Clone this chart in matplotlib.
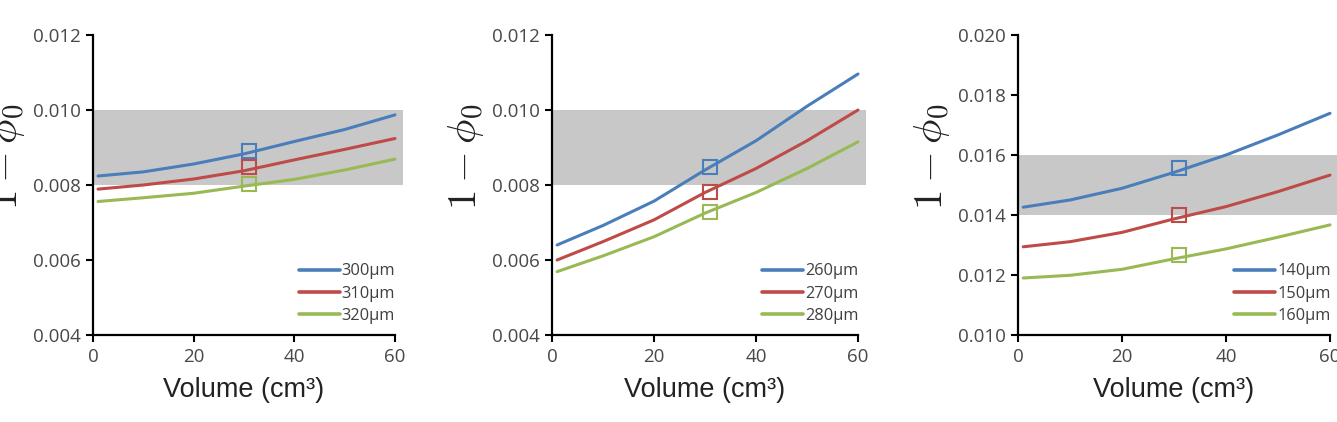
import numpy as np
import matplotlib
matplotlib.use('Agg')
import matplotlib.pyplot as plt

plt.rcParams['mathtext.fontset'] = 'cm'
plt.rcParams['font.family'] = ['Open Sans', 'DejaVu Sans']

volume = [1, 10, 20, 30, 40, 50, 60]
marker_x = 31

# panel A
labels_a = ["300\u03bcm", "310\u03bcm", "320\u03bcm"]
a_300 = [0.00824, 0.00835, 0.00856, 0.00883, 0.00916, 0.00948, 0.00987]
a_310 = [0.00789, 0.00800, 0.00816, 0.00838, 0.00867, 0.00895, 0.00924]
a_320 = [0.00756, 0.00766, 0.00778, 0.00797, 0.00815, 0.00840, 0.00869]
marks_a = [0.00891, 0.00849, 0.00803]

# panel B
labels_b = ["260\u03bcm", "270\u03bcm", "280\u03bcm"]
b_260 = [0.00640, 0.00692, 0.00757, 0.00840, 0.00918, 0.01010, 0.01096]
b_270 = [0.00600, 0.00649, 0.00707, 0.00780, 0.00844, 0.00918, 0.01000]
b_280 = [0.00569, 0.00611, 0.00662, 0.00725, 0.00780, 0.00844, 0.00915]
marks_b = [0.00849, 0.00782, 0.00729]

# panel C
labels_c = ["140\u03bcm", "150\u03bcm", "160\u03bcm"]
c_140 = [0.01426, 0.01450, 0.01489, 0.01542, 0.01600, 0.01667, 0.01739]
c_150 = [0.01294, 0.01311, 0.01342, 0.01387, 0.01428, 0.01478, 0.01533]
c_160 = [0.01190, 0.01199, 0.01219, 0.01254, 0.01287, 0.01326, 0.01367]
marks_c = [0.01558, 0.01400, 0.01267]

colors = ["#4a7ebb", "#be4b48", "#98b954"]

panels = [
  dict(series=[a_300, a_310, a_320], marks=marks_a, labels=labels_a,
       ylim=(0.004, 0.012), yticks=[0.004, 0.006, 0.008, 0.010, 0.012], band=(0.008, 0.010)),
  dict(series=[b_260, b_270, b_280], marks=marks_b, labels=labels_b,
       ylim=(0.004, 0.012), yticks=[0.004, 0.006, 0.008, 0.010, 0.012], band=(0.008, 0.010)),
  dict(series=[c_140, c_150, c_160], marks=marks_c, labels=labels_c,
       ylim=(0.010, 0.020), yticks=[0.010, 0.012, 0.014, 0.016, 0.018, 0.020], band=(0.014, 0.016)),
]

W, H = 1337, 422
fig = plt.figure(figsize=(W/100, H/100), dpi=100)

lefts = [93, 552, 1018]
rights = [395, 858, 1330]
top, bottom = 35, 335

for p, l, r in zip(panels, lefts, rights):
  ax = fig.add_axes([l/W, 1 - bottom/H, (r - l)/W, (bottom - top)/H])
  ax.fill_between([0, 61.5], p["band"][0], p["band"][1], color="#c8c8c8", lw=0, zorder=0, clip_on=False)
  for s, c, lab in zip(p["series"], colors, p["labels"]):
    ax.plot(volume, s, color=c, lw=2.2, label=lab, zorder=2, clip_on=False, solid_capstyle="round")
  for m, c in zip(p["marks"], colors):
    ax.plot([marker_x], [m], marker="s", ms=10.5, mfc="none", mec=c, mew=1.5, ls="none", zorder=3, clip_on=False)

  ax.set_xlim(0, 60)
  ax.set_ylim(*p["ylim"])
  ax.set_xticks([0, 20, 40, 60])
  ax.set_yticks(p["yticks"])
  ax.set_yticklabels(["%.3f" % v for v in p["yticks"]])
  for side in ("top", "right"):
    ax.spines[side].set_visible(False)
  for side in ("left", "bottom"):
    ax.spines[side].set_linewidth(1.6)
  ax.tick_params(direction="out", length=5, width=1.5, labelsize=13.5, labelcolor="#484848", pad=4)
  ax.patch.set_visible(False)

  ax.set_xlabel("Volume (cm\u00b3)", fontsize=19.5, family="Liberation Sans", color="#222222", labelpad=8)
  ax.set_ylabel(r"$1-\phi_0$", fontsize=29.5, va="center", color="#222222")
  ax.yaxis.set_label_coords(-86/(r - l), 0.595)

  leg = ax.legend(loc="lower right", bbox_to_anchor=(1.05, -0.012), frameon=False, fontsize=11.8,
                  handlelength=2.5, handletextpad=0.12, labelspacing=0.38)
  for line in leg.get_lines():
    line.set_linewidth(2.6)
  for t in leg.get_texts():
    t.set_color("#404040")

plt.savefig("out.png", dpi=100)
